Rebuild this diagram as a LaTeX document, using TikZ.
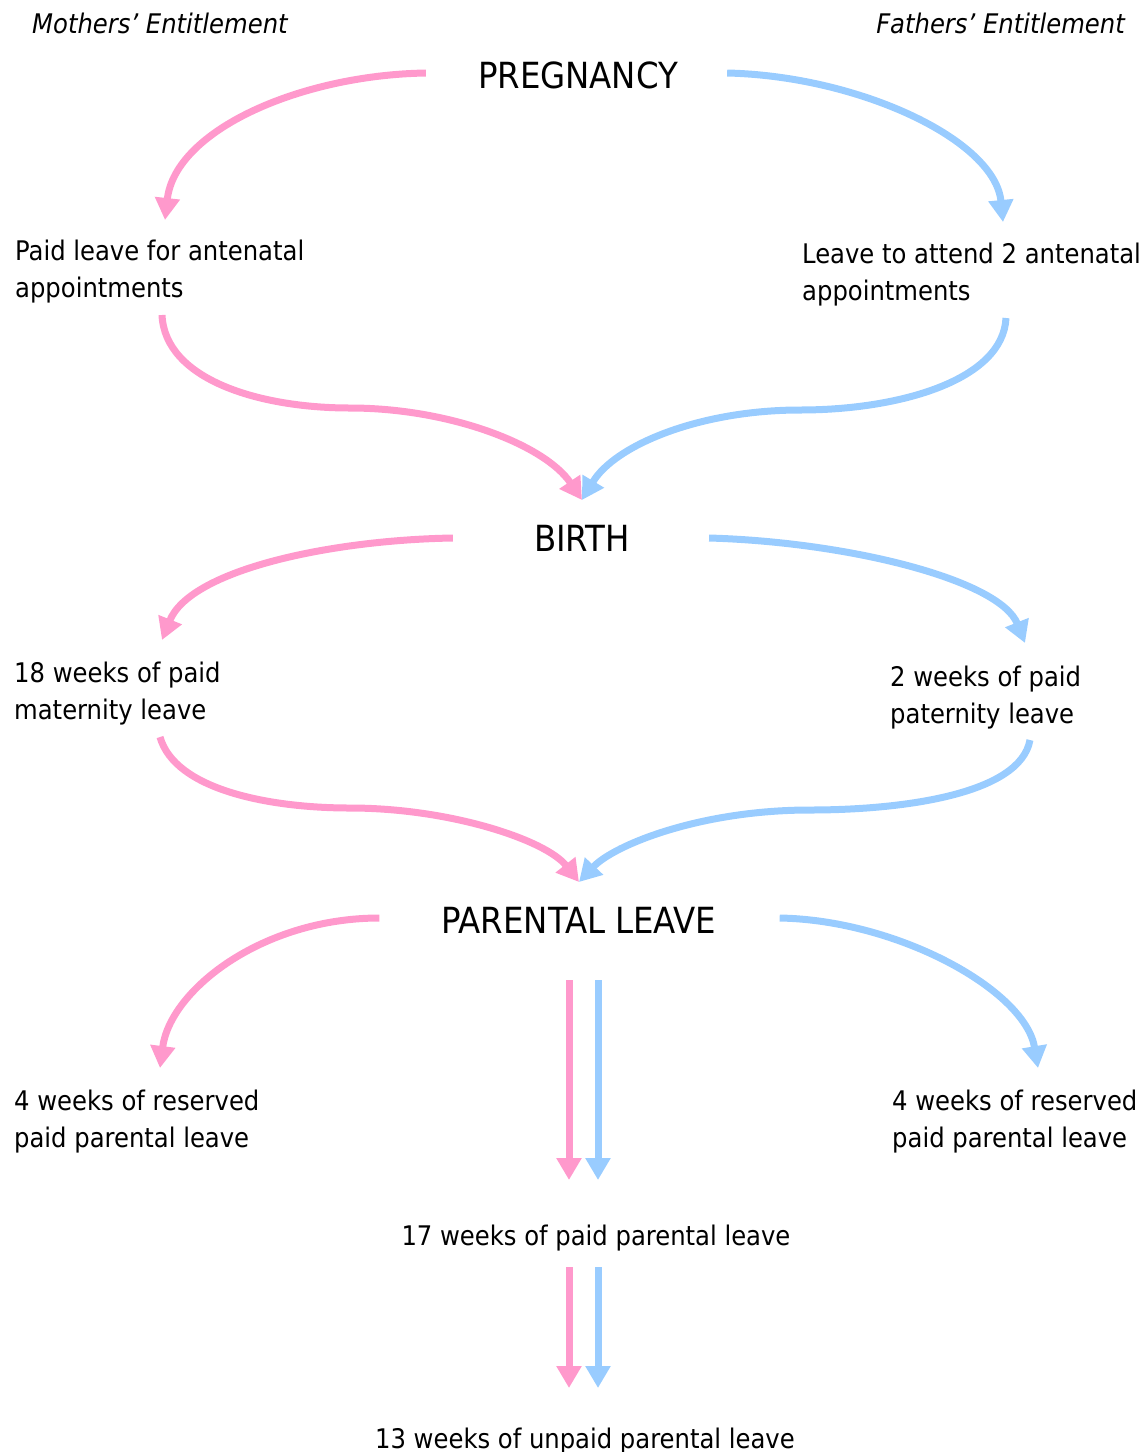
\documentclass[tikz,border=0pt]{standalone}
\usepackage{fontspec}
\setmainfont{DejaVu Sans Condensed}
\usetikzlibrary{arrows.meta}
\definecolor{mumpink}{HTML}{FF99CC}
\definecolor{dadblue}{HTML}{99CCFF}

\begin{document}
\begin{tikzpicture}[x=1pt, y=-1pt,
headnode/.style={inner sep=0pt, anchor=base, font=\fontsize{36}{40}\selectfont},
textnode/.style={inner sep=0pt, align=left, anchor=base west, font=\fontsize{27}{37}\selectfont},
sidenode/.style={inner sep=0pt, font=\itshape\fontsize{27}{32}\selectfont},
pinkarrow/.style={draw=mumpink, line width=7pt, -{Triangle[width=24pt,length=22pt]}},
bluearrow/.style={draw=dadblue, line width=7pt, -{Triangle[width=24pt,length=22pt]}},
]
\useasboundingbox (0,0) rectangle (1147,1452);

%Nodes
\node[sidenode, anchor=base west] (mum) at (32,33)   {Mothers’ Entitlement};
\node[sidenode, anchor=base east] (dad) at (1125,33) {Fathers’ Entitlement};

\node[headnode] (preg)   at (578,88)  {PREGNANCY};
\node[textnode] (mumant) at (15,297)  {Paid leave for antenatal\\appointments};
\node[textnode] (dadant) at (802,300) {Leave to attend 2 antenatal\\appointments};

\node[headnode] (birth)  at (582,551) {BIRTH};
\node[textnode] (mat)    at (14,719)  {18 weeks of paid\\maternity leave};
\node[textnode] (pat)    at (890,723) {2 weeks of paid\\paternity leave};

\node[headnode] (par)    at (579,933) {PARENTAL LEAVE};
\node[textnode] (mumres) at (14,1147) {4 weeks of reserved\\paid parental leave};
\node[textnode] (dadres) at (892,1147){4 weeks of reserved\\paid parental leave};

\node[headnode, font=\fontsize{27}{37}\selectfont] (shared) at (596,1245) {17 weeks of paid parental leave};
\node[headnode, font=\fontsize{27}{37}\selectfont] (unpaid) at (585,1448) {13 weeks of unpaid parental leave};

%Lines
\draw[pinkarrow] ([shift={(-52,-15)}]preg.base west) .. controls +(-125,2) and +(10,-90) .. ([shift={(150,-77)}]mumant.base west);
\draw[bluearrow] ([shift={(49,-15)}]preg.base east) .. controls +(132,3) and +(-8,-82) .. ([shift={(201,-78)}]dadant.base west);

\draw[pinkarrow] ([shift={(147,18)}]mumant.base west) .. controls +(3,65) and +(-90,0) .. (350,408)
  .. controls +(100,0) and +(-37,-55) .. ([shift={(0,-51)}]birth.base);
\draw[bluearrow] ([shift={(204,18)}]dadant.base west) .. controls +(-3,62) and +(100,0) .. (800,410)
  .. controls +(-100,0) and +(33,-55) .. ([shift={(0,-51)}]birth.base);

\draw[pinkarrow] ([shift={(-81,-13)}]birth.base west) .. controls +(-123,2) and +(28,-70) .. ([shift={(148,-79)}]mat.base west);
\draw[bluearrow] ([shift={(79,-13)}]birth.base east) .. controls +(140,4) and +(-25,-63) .. ([shift={(135,-80)}]pat.base west);

\draw[pinkarrow] ([shift={(146,18)}]mat.base west) .. controls +(15,53) and +(-80,0) .. (350,808)
  .. controls +(100,0) and +(-33,-42) .. ([shift={(0,-51)}]par.base);
\draw[bluearrow] ([shift={(140,17)}]pat.base west) .. controls +(-10,55) and +(90,0) .. (810,810)
  .. controls +(-110,0) and +(35,-37) .. ([shift={(0,-51)}]par.base);

\draw[pinkarrow] ([shift={(-62,-15)}]par.base west) .. controls +(-117,0) and +(10,-78) .. ([shift={(146,-79)}]mumres.base west);
\draw[bluearrow] ([shift={(63,-15)}]par.base east) .. controls +(118,2) and +(-13,-78) .. ([shift={(146,-79)}]dadres.base west);

\draw[pinkarrow] ([shift={(-10,47)}]par.base) -- ([shift={(-27,-65)}]shared.base);
\draw[bluearrow] ([shift={(19,47)}]par.base) -- ([shift={(2,-65)}]shared.base);
\draw[pinkarrow] ([shift={(-27,22)}]shared.base) -- ([shift={(-16,-60)}]unpaid.base);
\draw[bluearrow] ([shift={(2,22)}]shared.base) -- ([shift={(13,-60)}]unpaid.base);
\end{tikzpicture}
\end{document}
